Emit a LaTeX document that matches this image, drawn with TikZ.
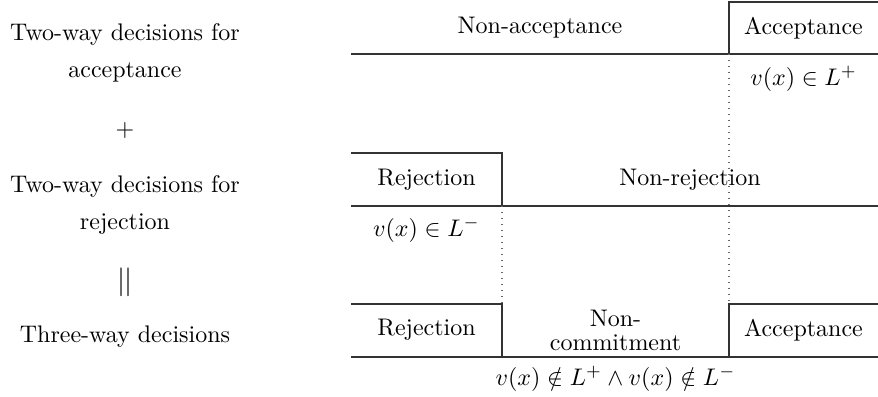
\documentclass[tikz,border=0pt]{standalone}
\begin{document}
\begin{tikzpicture}[x=0.41667pt,y=-0.41667pt,
  rule/.style={line width=0.6pt, black!80},
  guide/.style={dotted, line width=0.5pt, black!60},
  lbl/.style={inner sep=0pt, align=center},
  side/.style={inner sep=0pt, align=center, font=\fontsize{10}{15.4}\selectfont}]
\useasboundingbox (0,0) rectangle (878,396);
% row 1: two-way decisions for acceptance
\coordinate (r1l) at (351,54);
\coordinate (r1r) at (878,54);
\coordinate (a1b) at (729,54);
\coordinate (a1t) at (729,2);
\coordinate (a1tr) at (878,2);
\draw[rule] (r1l) -- (r1r);
\draw[rule] (a1b) -- (a1t) -- (a1tr);
\node[lbl] (nacc1) at (540,28) {Non-acceptance};
\node[lbl] (acc1) at (803.5,28) {Acceptance};
\node[lbl] (lp) at (803.5,79) {$v(x)\in L^{+}$};
% row 2: two-way decisions for rejection
\coordinate (r2l) at (351,206);
\coordinate (r2r) at (878,206);
\coordinate (j2b) at (502,206);
\coordinate (j2t) at (502,153);
\coordinate (j2tl) at (351,153);
\draw[rule] (r2l) -- (r2r);
\draw[rule] (j2tl) -- (j2t) -- (j2b);
\node[lbl] (rej2) at (426.5,180) {Rejection};
\node[lbl] (nrej2) at (690,180) {Non-rejection};
\node[lbl] (lm) at (426.5,230) {$v(x)\in L^{-}$};
% row 3: three-way decisions
\coordinate (r3l) at (351,357);
\coordinate (r3r) at (878,357);
\coordinate (j3b) at (502,357);
\coordinate (j3t) at (502,304);
\coordinate (j3tl) at (351,304);
\coordinate (a3b) at (729,357);
\coordinate (a3t) at (729,304);
\coordinate (a3tr) at (878,304);
\draw[rule] (r3l) -- (r3r);
\draw[rule] (j3tl) -- (j3t) -- (j3b);
\draw[rule] (a3b) -- (a3t) -- (a3tr);
\node[lbl] (rej3) at (426.5,330) {Rejection};
\node[lbl, font=\fontsize{10}{10}\selectfont] (ncom3) at (615.5,330) {Non-\\commitment};
\node[lbl] (acc3) at (803.5,330) {Acceptance};
\node[lbl] (bnd) at (615.5,379) {$v(x)\notin L^{+}\wedge v(x)\notin L^{-}$};
% dotted guides
\draw[guide] (a1b) -- (a3t);
\draw[guide] (j2b) -- (j3t);
% left column
\node[side] (t1) at (125,53) {Two-way decisions for\\acceptance};
\node[lbl] (plus) at (125,130) {$+$};
\node[side] (t2) at (125,205) {Two-way decisions for\\rejection};
\node[lbl, font=\large] (eq) at (125,282) {$||$};
\node[lbl] (t3) at (125,337) {Three-way decisions};
\end{tikzpicture}
\end{document}
